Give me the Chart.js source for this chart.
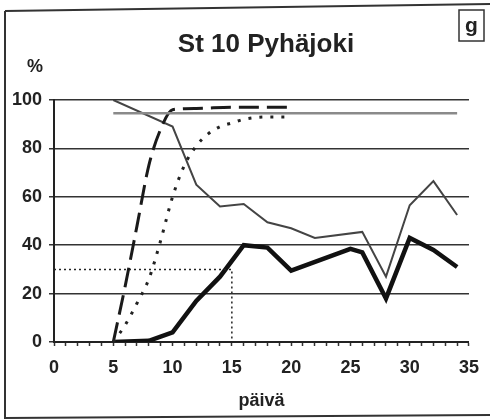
<!DOCTYPE html>
<html>
<head>
<meta charset="utf-8">
<script src="https://cdn.jsdelivr.net/npm/chart.js@4/dist/chart.umd.min.js"></script>
<style>
  body { margin: 0; background: #fff; }
  canvas { display: block; }
</style>
</head>
<body>
<canvas id="chart" width="490" height="420"></canvas>
<script>
// St 10 Pyhäjoki, panel g
const title = 'St 10 Pyhäjoki';
const x_label = 'päivä';
const y_unit = '%';
const panel = 'g';

const x_ticks = [0, 5, 10, 15, 20, 25, 30, 35];
const y_ticks = [0, 20, 40, 60, 80, 100];

// thin solid line
const thin_days = [5, 10, 12, 14, 16, 18, 20, 22, 26, 28, 30, 32, 34];
const thin_values = [100, 89, 65, 56, 57, 49.5, 47, 43, 45.5, 27, 56.5, 66.5, 52.5];

// thick solid line
const thick_days = [5, 8, 10, 12, 14, 16, 18, 20, 25, 26, 28, 30, 32, 34];
const thick_values = [0, 0.5, 4, 17, 27, 40, 39, 29.5, 38.5, 37, 18, 43, 38, 31];

// dashed curve
const dashed_days = [5, 6, 7, 8, 9, 10, 12, 15, 20];
const dashed_values = [0, 23, 48, 73, 88, 96, 96.5, 97, 97];

// dotted curve
const dotted_days = [5, 6, 7, 8, 9, 10, 11, 12, 13, 14, 15, 16, 18, 20];
const dotted_values = [0, 7, 16, 26, 42, 60, 73, 81, 86, 89, 90.5, 92, 93, 93];

// grey level line
const level_days = [5, 34];
const level_values = [94.5, 94.5];

// 30 % reading at day 15
const ref_days = [0, 15, 15];
const ref_values = [30, 30, 0];

function toPoints(xs, ys) {
  return xs.map((x, i) => ({ x: x, y: ys[i] }));
}

const font = "'Liberation Sans', Arial, sans-serif";

// frame, title, % and the panel box
const decor = {
  id: 'decor',
  beforeDraw(chart) {
    const c = chart.ctx;
    c.save();
    c.fillStyle = '#fff';
    c.fillRect(0, 0, chart.width, chart.height);
    c.strokeStyle = '#333';
    c.lineWidth = 2;
    c.beginPath();
    c.moveTo(5, 11);
    c.lineTo(5, 418);
    c.lineTo(490, 415);
    c.moveTo(5, 11);
    c.lineTo(490, 4);
    c.stroke();
    c.restore();
  },
  afterDraw(chart) {
    const c = chart.ctx;
    c.save();
    c.fillStyle = '#222';
    c.textAlign = 'center';
    c.textBaseline = 'alphabetic';
    c.font = 'bold 26px ' + font;
    c.fillText(title, 266, 52);
    c.font = 'bold 18px ' + font;
    c.fillText(y_unit, 35, 72);
    c.strokeStyle = '#333';
    c.lineWidth = 1.5;
    c.strokeRect(459, 10, 25, 31);
    c.font = 'bold 21px ' + font;
    c.fillText(panel, 471.5, 32);
    c.restore();
  }
};

new Chart(document.getElementById('chart').getContext('2d'), {
  type: 'line',
  data: {
    datasets: [
      {
        data: toPoints(level_days, level_values),
        borderColor: '#8a8a8a',
        borderWidth: 2.5,
        pointRadius: 0
      },
      {
        data: toPoints(ref_days, ref_values),
        borderColor: '#222',
        borderWidth: 1.5,
        borderDash: [2, 3],
        pointRadius: 0
      },
      {
        data: toPoints(dotted_days, dotted_values),
        borderColor: '#222',
        borderWidth: 3,
        borderDash: [3, 8],
        cubicInterpolationMode: 'monotone',
        pointRadius: 0
      },
      {
        data: toPoints(dashed_days, dashed_values),
        borderColor: '#1a1a1a',
        borderWidth: 3,
        borderDash: [20, 8],
        cubicInterpolationMode: 'monotone',
        pointRadius: 0
      },
      {
        data: toPoints(thin_days, thin_values),
        borderColor: '#444',
        borderWidth: 2,
        pointRadius: 0
      },
      {
        data: toPoints(thick_days, thick_values),
        borderColor: '#111',
        borderWidth: 4.5,
        pointRadius: 0
      }
    ]
  },
  options: {
    responsive: false,
    animation: false,
    layout: { padding: { left: 0, top: 100, right: 16, bottom: 4 } },
    plugins: {
      legend: { display: false },
      tooltip: { enabled: false }
    },
    scales: {
      x: {
        type: 'linear',
        min: x_ticks[0],
        max: x_ticks[x_ticks.length - 1],
        afterFit: (scale) => { scale.height = 74; },
        grid: {
          drawOnChartArea: false,
          tickLength: 4,
          tickColor: '#333',
          tickWidth: 1.5
        },
        border: { color: '#222', width: 2 },
        ticks: {
          stepSize: 1,
          autoSkip: false,
          maxRotation: 0,
          padding: 11,
          color: '#222',
          font: { family: font, size: 18, weight: 'bold' },
          callback: (v) => x_ticks.includes(v) ? v : ''
        },
        title: {
          display: true,
          text: x_label,
          color: '#222',
          padding: { top: 0, bottom: 4 },
          font: { family: font, size: 18, weight: 'bold' }
        }
      },
      y: {
        min: y_ticks[0],
        max: y_ticks[y_ticks.length - 1],
        afterFit: (scale) => { scale.width = 54; },
        grid: {
          color: (ctx) => y_ticks.includes(ctx.tick.value) ? '#333' : 'rgba(0,0,0,0)',
          lineWidth: 1.5,
          tickLength: 5,
          tickColor: '#333'
        },
        border: { color: '#222', width: 2 },
        ticks: {
          stepSize: 10,
          padding: 7,
          color: '#222',
          font: { family: font, size: 18, weight: 'bold' },
          callback: (v) => y_ticks.includes(v) ? v : ''
        }
      }
    }
  },
  plugins: [decor]
});
</script>
</body>
</html>
